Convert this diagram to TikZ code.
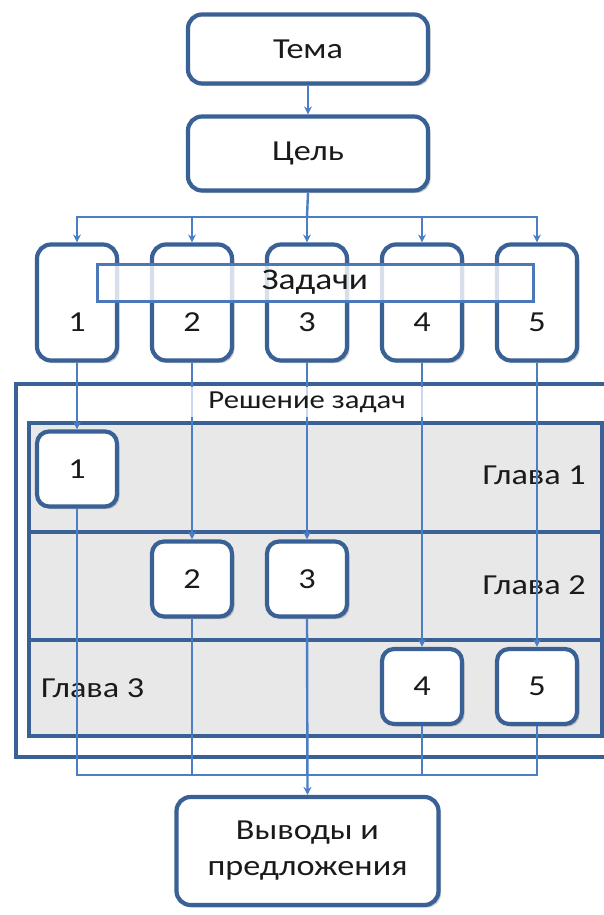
\documentclass[tikz,border=0pt]{standalone}
\usepackage{fontspec}
\setmainfont{Carlito}[FakeStretch=1.18]
\usetikzlibrary{arrows.meta,shadows}
\definecolor{bdr}{HTML}{3A6196}
\definecolor{conn}{HTML}{4A7EC6}
\definecolor{barb}{HTML}{4A78B8}
\definecolor{chfill}{HTML}{E8E8E8}
\definecolor{txt}{HTML}{1A1A1A}
\begin{document}
\begin{tikzpicture}[x=1pt,y=-1pt,
  rbox/.style={draw=bdr, line width=4.2pt, fill=white, rounded corners=14pt,
    drop shadow={shadow xshift=2.5pt,shadow yshift=-2.5pt,opacity=0.4,fill=gray},
    inner sep=0pt, text=txt, font=\fontsize{29}{36}\selectfont, align=center},
  tbox/.style={rbox, minimum width=80pt, minimum height=116pt},
  cbox/.style={rbox, rounded corners=12pt, minimum width=80pt, minimum height=75pt},
  chrow/.style={draw=bdr, line width=3.5pt, fill=chfill, anchor=north west, inner sep=0pt},
  lbl/.style={text=txt, inner sep=0pt, font=\fontsize{29}{36}\selectfont},
  conn/.style={draw=conn, line width=2.4pt},
  arr/.style={-{Stealth[length=8pt,width=8pt]}}]
\clip (0,0) rectangle (604,915);
\fill[white] (0,0) rectangle (604,915);
% outer frame
\node[draw=bdr, line width=3.5pt, fill=white, anchor=north west, inner sep=0pt,
  minimum width=620pt, minimum height=373pt] (sol) at (14,382) {};
% chapter rows
\node[chrow, minimum width=573pt, minimum height=109pt] (ch1) at (27,421) {};
\node[chrow, minimum width=573pt, minimum height=108pt] (ch2) at (27,530) {};
\node[chrow, minimum width=573pt, minimum height=96pt] (ch3) at (27,638) {};
\node[lbl, anchor=east] (g1) at (586,475) {Глава 1};
\node[lbl, anchor=east] (g2) at (586,585) {Глава 2};
\node[lbl, anchor=west] (g3) at (41,688) {Глава 3};
% top boxes
\node[rbox, minimum width=240pt, minimum height=69pt] (tema) at (308,49) {Тема};
\node[rbox, minimum width=240pt, minimum height=74pt] (cel) at (308,153.5) {Цель};
% task boxes
\foreach \i/\x in {1/77,2/192,3/307,4/422,5/537}{
  \node[tbox] (t\i) at (\x,302.5) {};
  \node[lbl] (tn\i) at (\x,322) {\i};
}
% chapter boxes
\node[cbox] (c1) at (77,469) {1};
\node[cbox] (c2) at (192,579) {2};
\node[cbox] (c3) at (307,579) {3};
\node[cbox] (c4) at (422,686.5) {4};
\node[cbox] (c5) at (537,686.5) {5};
% final box
\node[rbox, minimum width=262pt, minimum height=108pt] (fin) at (307.5,851) {Выводы и\\предложения};
% connectors
\coordinate (split) at (307,217);
\coordinate (coll) at (307,775);
\draw[conn, arr] (tema.south) -- (cel.north);
\draw[conn] (cel.south) -- (split);
\foreach \i in {1,2,4,5}{ \draw[conn, arr] (split) -| (t\i.north); }
\draw[conn, arr] (split) -- (t3.north);
\foreach \i in {1,...,5}{ \draw[conn, arr] (t\i.south) -- (c\i.north); }
\node[fill=white, fill opacity=0.7, text opacity=1, text=txt, inner sep=0pt,
  minimum width=300pt, minimum height=30pt, font=\fontsize{26}{30}\selectfont] (soll) at (307,402) {Решение задач};
\draw[conn] (c1.south) -- (c1.south |- coll) -- (c5.south |- coll) -- (c5.south);
\draw[conn] (c2.south) -- (c2.south |- coll);
\draw[conn] (c4.south) -- (c4.south |- coll);
\draw[conn, arr] (c3.south) -- (fin.north);
% Задачи bar
\node[draw=barb, line width=3pt, fill=white, fill opacity=0.8, text opacity=1,
  text=txt, inner sep=0pt, minimum width=436pt, minimum height=37pt,
  font=\fontsize{30}{36}\selectfont] (zad) at (315,282.5) {Задачи};
\end{tikzpicture}
\end{document}
